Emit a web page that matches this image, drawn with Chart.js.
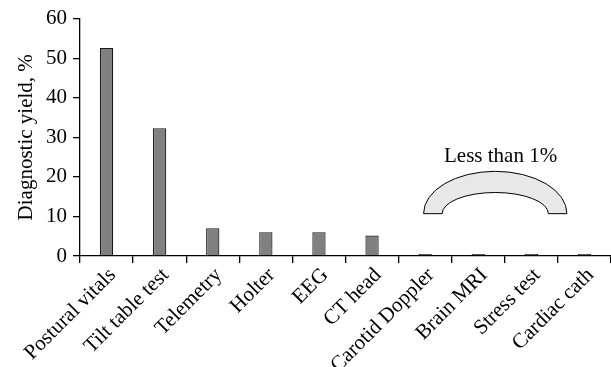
<!DOCTYPE html>
<html><head><meta charset="utf-8">
<script src="https://cdn.jsdelivr.net/npm/chart.js@4/dist/chart.umd.min.js"></script>
<style>html,body{margin:0;padding:0;background:#fff}#wrap{width:611px;height:367px}</style>
</head><body><div id="wrap"><canvas id="c" width="611" height="367"></canvas></div>
<script>
const categories = ["Postural vitals","Tilt table test","Telemetry","Holter","EEG","CT head","Carotid Doppler","Brain MRI","Stress test","Cardiac cath"];
const yieldValues = [52.6, 32.3, 7.0, 6.0, 6.0, 5.2, 0.5, 0.5, 0.5, 0.5];
const yTicks = [0,10,20,30,40,50,60];
const annotationText = "Less than 1%";

const FONT = "'Liberation Serif','Times New Roman',serif";

const archPlugin = {
  id: 'arch',
  afterDatasetsDraw(chart) {
    const x = chart.scales.x, y = chart.scales.y, ctx = chart.ctx;
    const step = x.getPixelForValue(1) - x.getPixelForValue(0);
    const px = v => x.getPixelForValue(0) + v * step;
    const cx = px(7.32), base = y.getPixelForValue(10.7);
    const rxO = 1.35 * step, ryO = y.getPixelForValue(0) - y.getPixelForValue(10.7);
    const rxI = 1.0 * step, ryI = y.getPixelForValue(0) - y.getPixelForValue(5.35);
    ctx.save();
    ctx.beginPath();
    ctx.ellipse(cx, base, rxO, ryO, 0, Math.PI, 2*Math.PI, false);
    ctx.lineTo(cx + rxI, base);
    ctx.ellipse(cx, base, rxI, ryI, 0, 2*Math.PI, Math.PI, true);
    ctx.closePath();
    ctx.fillStyle = '#e8e8e8';
    ctx.fill();
    ctx.lineWidth = 1;
    ctx.strokeStyle = '#000';
    ctx.stroke();
    ctx.fillStyle = '#000';
    ctx.font = "21px " + FONT;
    ctx.textAlign = 'center';
    ctx.textBaseline = 'middle';
    ctx.fillText(annotationText, px(7.42), y.getPixelForValue(25.2));
    ctx.restore();
  }
};

new Chart(document.getElementById('c'), {
  type: 'bar',
  data: {
    labels: categories,
    datasets: [{
      data: yieldValues,
      backgroundColor: '#808080',
      borderColor: '#1a1a1a',
      borderWidth: 1.2,
      borderSkipped: 'bottom',
      barPercentage: 0.25,
      categoryPercentage: 1.0
    }]
  },
  options: {
    responsive: false,
    animation: false,
    layout: { padding: { top: 15, right: 0, left: 0, bottom: 0 } },
    plugins: { legend: { display: false }, tooltip: { enabled: false } },
    scales: {
      x: {
        grid: { display: true, drawOnChartArea: false, drawTicks: true, tickLength: 7, color: '#000', lineWidth: 1.3, offset: true },
        border: { display: true, color: '#000', width: 1.3 },
        ticks: { color: '#000', font: { family: FONT, size: 21 }, minRotation: 45, maxRotation: 45, padding: 0, autoSkip: false, labelOffset: 6 },
        afterFit(s) { s.height = 111; }
      },
      y: {
        min: 0, max: 60,
        afterBuildTicks(s) { s.ticks = yTicks.map(v => ({ value: v })); },
        grid: { display: true, drawOnChartArea: false, drawTicks: true, tickLength: 7, color: '#000', lineWidth: 1.3 },
        border: { display: true, color: '#000', width: 1.3 },
        ticks: { color: '#000', font: { family: FONT, size: 21 }, padding: 6 },
        title: { display: true, text: 'Diagnostic yield, %', color: '#000', font: { family: FONT, size: 21 }, padding: { top: 14, bottom: 0 } },
        afterFit(s) { s.width = 80; }
      }
    }
  },
  plugins: [archPlugin]
});
</script>
</body></html>
